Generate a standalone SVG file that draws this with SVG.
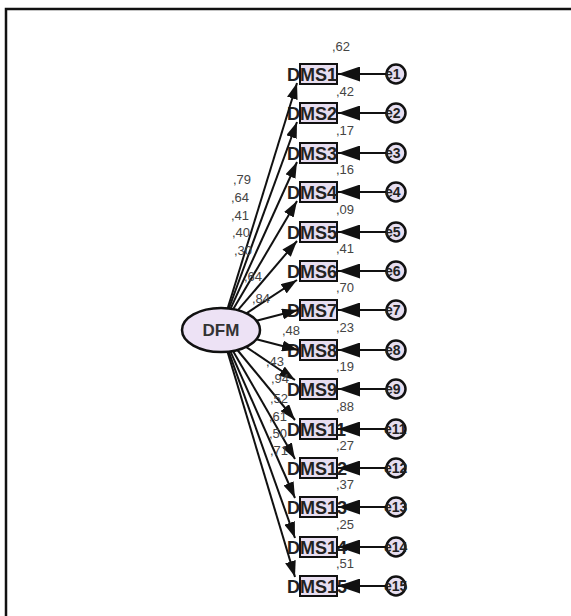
<svg xmlns="http://www.w3.org/2000/svg" width="571" height="616" viewBox="0 0 571 616">
<style>
.frame{fill:none;stroke:#111;stroke-width:2.5}
.box{fill:#e8def0;stroke:#111;stroke-width:2}
.err{fill:#e6def0;stroke:#111;stroke-width:2.5}
.ell{fill:#ede2f5;stroke:#111;stroke-width:2.5}
.obs{font-family:"Liberation Sans",Arial,sans-serif;font-size:18px;font-weight:bold;fill:#222}
.et{font-family:"Liberation Sans",Arial,sans-serif;font-size:14px;font-weight:bold;fill:#222}
.num{font-family:"Liberation Sans",Arial,sans-serif;font-size:13px;fill:#444}
.lat{font-family:"Liberation Sans",Arial,sans-serif;font-size:17px;font-weight:bold;fill:#333}
.ln{stroke:#111;stroke-width:2;fill:none}
.le{stroke:#111;stroke-width:2.2;fill:none}
</style>
<defs>
<marker id="ah" markerUnits="userSpaceOnUse" markerWidth="16" markerHeight="11" refX="16" refY="5.5" orient="auto"><path d="M0,0 L16,5.5 L0,11 z" fill="#111"/></marker>
<marker id="ahe" markerUnits="userSpaceOnUse" markerWidth="22" markerHeight="15" refX="22" refY="7.5" orient="auto"><path d="M0,0 L22,7.5 L0,15 z" fill="#111"/></marker>
</defs>
<rect class="frame" x="6" y="9" width="600" height="640"/>
<g id="DFM"><ellipse class="ell" cx="221" cy="330" rx="39" ry="22"/><text class="lat" x="221" y="336" text-anchor="middle">DFM</text></g>
<g id="DMS1"><rect class="box" x="300" y="64" width="37" height="20"/><text class="obs" x="287" y="81">DMS1</text></g>
<g id="DMS2"><rect class="box" x="300" y="103" width="37" height="20"/><text class="obs" x="287" y="120">DMS2</text></g>
<g id="DMS3"><rect class="box" x="300" y="143" width="37" height="20"/><text class="obs" x="287" y="160">DMS3</text></g>
<g id="DMS4"><rect class="box" x="300" y="182" width="37" height="20"/><text class="obs" x="287" y="199">DMS4</text></g>
<g id="DMS5"><rect class="box" x="300" y="222" width="37" height="20"/><text class="obs" x="287" y="239">DMS5</text></g>
<g id="DMS6"><rect class="box" x="300" y="261" width="37" height="20"/><text class="obs" x="287" y="278">DMS6</text></g>
<g id="DMS7"><rect class="box" x="300" y="300" width="37" height="20"/><text class="obs" x="287" y="317">DMS7</text></g>
<g id="DMS8"><rect class="box" x="300" y="340" width="37" height="20"/><text class="obs" x="287" y="357">DMS8</text></g>
<g id="DMS9"><rect class="box" x="300" y="379" width="37" height="20"/><text class="obs" x="287" y="396">DMS9</text></g>
<g id="DMS11"><rect class="box" x="300" y="419" width="37" height="20"/><text class="obs" x="287" y="436">DMS11</text></g>
<g id="DMS12"><rect class="box" x="300" y="458" width="37" height="20"/><text class="obs" x="287" y="475">DMS12</text></g>
<g id="DMS13"><rect class="box" x="300" y="497" width="37" height="20"/><text class="obs" x="287" y="514">DMS13</text></g>
<g id="DMS14"><rect class="box" x="300" y="537" width="37" height="20"/><text class="obs" x="287" y="554">DMS14</text></g>
<g id="DMS15"><rect class="box" x="300" y="576" width="37" height="20"/><text class="obs" x="287" y="593">DMS15</text></g>
<g id="e1"><circle class="err" cx="396" cy="74" r="9.5"/><text class="et" x="385" y="79">e1</text></g>
<g id="e2"><circle class="err" cx="396" cy="113" r="9.5"/><text class="et" x="385" y="118">e2</text></g>
<g id="e3"><circle class="err" cx="396" cy="153" r="9.5"/><text class="et" x="385" y="158">e3</text></g>
<g id="e4"><circle class="err" cx="396" cy="192" r="9.5"/><text class="et" x="385" y="197">e4</text></g>
<g id="e5"><circle class="err" cx="396" cy="232" r="9.5"/><text class="et" x="385" y="237">e5</text></g>
<g id="e6"><circle class="err" cx="396" cy="271" r="9.5"/><text class="et" x="385" y="276">e6</text></g>
<g id="e7"><circle class="err" cx="396" cy="310" r="9.5"/><text class="et" x="385" y="315">e7</text></g>
<g id="e8"><circle class="err" cx="396" cy="350" r="9.5"/><text class="et" x="385" y="355">e8</text></g>
<g id="e9"><circle class="err" cx="396" cy="389" r="9.5"/><text class="et" x="385" y="394">e9</text></g>
<g id="e11"><circle class="err" cx="396" cy="429" r="9.5"/><text class="et" x="384" y="434">e11</text></g>
<g id="e12"><circle class="err" cx="396" cy="468" r="9.5"/><text class="et" x="384" y="473">e12</text></g>
<g id="e13"><circle class="err" cx="396" cy="507" r="9.5"/><text class="et" x="384" y="512">e13</text></g>
<g id="e14"><circle class="err" cx="396" cy="547" r="9.5"/><text class="et" x="384" y="552">e14</text></g>
<g id="e15"><circle class="err" cx="396" cy="586" r="9.5"/><text class="et" x="384" y="591">e15</text></g>
<g id="connectors">
<line class="ln" x1="227.7" y1="308.3" x2="297" y2="83" marker-end="url(#ah)"/>
<line class="ln" x1="228.9" y1="308.5" x2="297" y2="122" marker-end="url(#ah)"/>
<line class="ln" x1="230.6" y1="308.7" x2="297" y2="162" marker-end="url(#ah)"/>
<line class="ln" x1="233.3" y1="309.1" x2="297" y2="201" marker-end="url(#ah)"/>
<line class="ln" x1="237.9" y1="310.2" x2="297" y2="241" marker-end="url(#ah)"/>
<line class="ln" x1="246.4" y1="313.3" x2="297" y2="280" marker-end="url(#ah)"/>
<line class="ln" x1="256.4" y1="320.8" x2="298" y2="310" marker-end="url(#ah)"/>
<line class="ln" x1="256.4" y1="339.2" x2="298" y2="350" marker-end="url(#ah)"/>
<line class="ln" x1="246" y1="346.9" x2="295" y2="380" marker-end="url(#ah)"/>
<line class="ln" x1="237.4" y1="350" x2="295" y2="420" marker-end="url(#ah)"/>
<line class="ln" x1="233" y1="350.9" x2="295" y2="459" marker-end="url(#ah)"/>
<line class="ln" x1="230.4" y1="351.4" x2="295" y2="498" marker-end="url(#ah)"/>
<line class="ln" x1="228.7" y1="351.6" x2="295" y2="538" marker-end="url(#ah)"/>
<line class="ln" x1="227.5" y1="351.7" x2="295" y2="577" marker-end="url(#ah)"/>
<line class="le" x1="386" y1="74" x2="338" y2="74" marker-end="url(#ahe)"/>
<line class="le" x1="386" y1="113" x2="338" y2="113" marker-end="url(#ahe)"/>
<line class="le" x1="386" y1="153" x2="338" y2="153" marker-end="url(#ahe)"/>
<line class="le" x1="386" y1="192" x2="338" y2="192" marker-end="url(#ahe)"/>
<line class="le" x1="386" y1="232" x2="338" y2="232" marker-end="url(#ahe)"/>
<line class="le" x1="386" y1="271" x2="338" y2="271" marker-end="url(#ahe)"/>
<line class="le" x1="386" y1="310" x2="338" y2="310" marker-end="url(#ahe)"/>
<line class="le" x1="386" y1="350" x2="338" y2="350" marker-end="url(#ahe)"/>
<line class="le" x1="386" y1="389" x2="338" y2="389" marker-end="url(#ahe)"/>
<line class="le" x1="386" y1="429" x2="338" y2="429" marker-end="url(#ahe)"/>
<line class="le" x1="386" y1="468" x2="338" y2="468" marker-end="url(#ahe)"/>
<line class="le" x1="386" y1="507" x2="338" y2="507" marker-end="url(#ahe)"/>
<line class="le" x1="386" y1="547" x2="338" y2="547" marker-end="url(#ahe)"/>
<line class="le" x1="386" y1="586" x2="338" y2="586" marker-end="url(#ahe)"/>
<text class="num" x="233" y="184">,79</text>
<text class="num" x="231" y="202">,64</text>
<text class="num" x="231" y="220">,41</text>
<text class="num" x="232" y="237">,40</text>
<text class="num" x="234" y="255">,30</text>
<text class="num" x="244" y="281">,64</text>
<text class="num" x="252" y="303">,84</text>
<text class="num" x="282" y="335">,48</text>
<text class="num" x="266" y="366">,43</text>
<text class="num" x="271" y="383">,94</text>
<text class="num" x="270" y="403">,52</text>
<text class="num" x="269" y="421">,61</text>
<text class="num" x="269" y="438">,50</text>
<text class="num" x="270" y="455">,71</text>
<text class="num" x="332" y="51">,62</text>
<text class="num" x="336" y="96">,42</text>
<text class="num" x="336" y="135">,17</text>
<text class="num" x="336" y="174">,16</text>
<text class="num" x="336" y="214">,09</text>
<text class="num" x="336" y="253">,41</text>
<text class="num" x="336" y="292">,70</text>
<text class="num" x="336" y="332">,23</text>
<text class="num" x="336" y="371">,19</text>
<text class="num" x="336" y="411">,88</text>
<text class="num" x="336" y="450">,27</text>
<text class="num" x="336" y="489">,37</text>
<text class="num" x="336" y="529">,25</text>
<text class="num" x="336" y="568">,51</text>
</g>
</svg>
